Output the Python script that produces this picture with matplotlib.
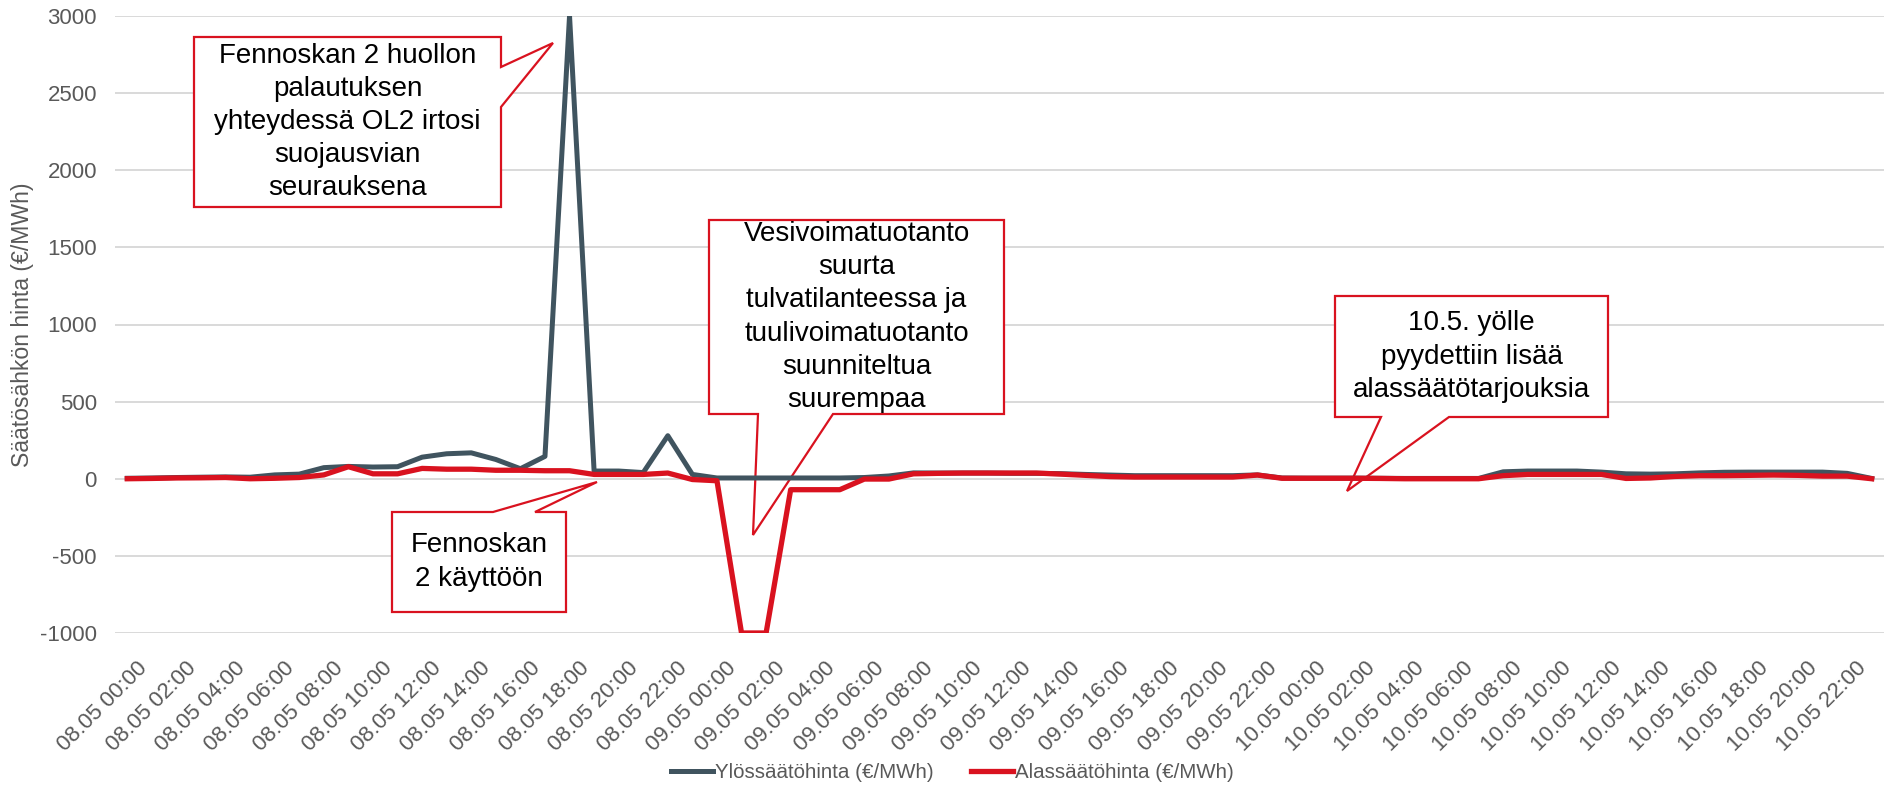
import matplotlib.pyplot as plt
from matplotlib.patches import Polygon
from matplotlib.transforms import ScaledTranslation

plt.rcParams["font.family"] = ["Liberation Sans", "DejaVu Sans"]
plt.rcParams["axes.unicode_minus"] = False

# hourly balancing power prices 08.05 00:00 .. 10.05 23:00
DAYS = ["08.05", "09.05", "10.05"]
HOURS = list(range(24))

UP_PRICE = [
    3, 5, 8, 10, 12, 10, 25, 30, 72, 80, 76, 78,
    140, 162, 168, 125, 65, 145, 3000, 50, 50, 40, 279, 28,
    5, 5, 5, 5, 5, 5, 8, 18, 38, 37, 37, 37,
    35, 35, 33, 28, 24, 20, 20, 20, 20, 20, 25, 5,
    4, 4, 4, 3, 2, 2, 2, 2, 45, 50, 50, 50,
    43, 32, 30, 32, 38, 42, 43, 43, 43, 43, 35, 2,
]
DOWN_PRICE = [
    0, 2, 5, 6, 8, 0, 3, 8, 25, 78, 32, 32,
    67, 62, 62, 55, 55, 52, 52, 28, 28, 28, 37, -5,
    -13, -1000, -1000, -71, -71, -71, -2, -2, 32, 35, 37, 37,
    37, 37, 30, 22, 14, 11, 11, 11, 11, 11, 24, 3,
    3, 3, 3, 2, 0, 0, 0, 0, 20, 28, 28, 28,
    28, 2, 5, 15, 20, 20, 22, 24, 22, 17, 17, 0,
]

SERIES_NAMES = ["Ylössäätöhinta (€/MWh)", "Alassäätöhinta (€/MWh)"]
Y_LABEL = "Säätösähkön hinta (€/MWh)"

CALLOUTS = [
    "Fennoskan 2 huollon\npalautuksen\nyhteydessä OL2 irtosi\nsuojausvian\nseurauksena",
    "Fennoskan\n2 käyttöön",
    "Vesivoimatuotanto\nsuurta\ntulvatilanteessa ja\ntuulivoimatuotanto\nsuunniteltua\nsuurempaa",
    "10.5. yölle\npyydettiin lisää\nalassäätötarjouksia",
]

GREY = "#40545F"
RED = "#D9121F"
TICK_GREY = "#595959"

W, H = 1894, 787


def px(x, y):
    # pixel position (from top-left) -> figure fraction
    return (x / W, 1 - y / H)


def callout(fig, box, wedge, text):
    x0, y0, x1, y1 = box
    side, a, b, tip = wedge
    if side == "right":
        pts = [(x0, y0), (x1, y0), (x1, a), tip, (x1, b), (x1, y1), (x0, y1)]
    elif side == "top":
        pts = [(x0, y0), (a, y0), tip, (b, y0), (x1, y0), (x1, y1), (x0, y1)]
    else:
        pts = [(x0, y0), (x1, y0), (x1, y1), (b, y1), tip, (a, y1), (x0, y1)]
    poly = Polygon([px(*p) for p in pts], closed=True, transform=fig.transFigure,
                   facecolor="white", edgecolor=RED, linewidth=1.6, zorder=2)
    fig.patches.append(poly)
    cx, cy = px((x0 + x1) / 2, (y0 + y1) / 2)
    fig.text(cx, cy, text, ha="center", va="center", multialignment="center",
             fontsize=20, linespacing=1.36, color="black", zorder=3)


fig = plt.figure(figsize=(W / 100, H / 100), dpi=100)
pos = [115 / W, 1 - 633 / H, (1884 - 115) / W, (633 - 16) / H]

# gridlines on a background axes so the callouts can sit above them
bg = fig.add_axes(pos, zorder=0)
bg.set_xlim(-0.5, 71.5)
bg.set_ylim(-1000, 3000)
bg.set_yticks(range(-1000, 3001, 500))
bg.set_xticks([])
bg.grid(axis="y", color="#D9D9D9", linewidth=1.4)
bg.tick_params(length=0, labelleft=False, labelbottom=False)
for spine in bg.spines.values():
    spine.set_visible(False)

ax = fig.add_axes(pos, zorder=3)
ax.patch.set_alpha(0)

labels = [f"{d} {h:02d}:00" for d in DAYS for h in HOURS]
x = list(range(len(labels)))

ax.plot(x, UP_PRICE, color=GREY, linewidth=3.6, label=SERIES_NAMES[0], zorder=3)
ax.plot(x, DOWN_PRICE, color=RED, linewidth=3.8, label=SERIES_NAMES[1], zorder=4)

ax.set_xlim(-0.5, len(labels) - 0.5)
ax.set_ylim(-1000, 3000)
ax.set_yticks(range(-1000, 3001, 500))
ax.set_xticks(x[::2])
ax.set_xticklabels(labels[::2], rotation=45, ha="right", rotation_mode="anchor")
ax.tick_params(axis="x", length=0, pad=18, labelsize=16, labelcolor=TICK_GREY)
ax.tick_params(axis="y", length=0, pad=13, labelsize=16, labelcolor=TICK_GREY)
shift = ScaledTranslation(0.09, 0, fig.dpi_scale_trans)
for lab in ax.get_xticklabels():
    lab.set_transform(lab.get_transform() + shift)
for spine in ax.spines.values():
    spine.set_visible(False)

ax.set_ylabel(Y_LABEL, fontsize=16.6, color=TICK_GREY)
ax.yaxis.set_label_coords(-0.046, 0.5)

callout(fig, (194, 37, 501, 207), ("right", 67, 107, (553, 43)), CALLOUTS[0])
callout(fig, (392, 512, 566, 612), ("top", 493, 535, (597, 482)), CALLOUTS[1])
callout(fig, (709, 220, 1004, 414), ("bottom", 758, 833, (753, 535)), CALLOUTS[2])
callout(fig, (1335, 296, 1608, 417), ("bottom", 1381, 1449, (1347, 491)), CALLOUTS[3])

fig.legend(loc="center", bbox_to_anchor=(0.503, 0.018), ncol=2, frameon=False,
           fontsize=14.8, handlelength=2.05, handletextpad=0.1, columnspacing=1.8,
           labelcolor=TICK_GREY)

fig.savefig("out.png", dpi=100)
